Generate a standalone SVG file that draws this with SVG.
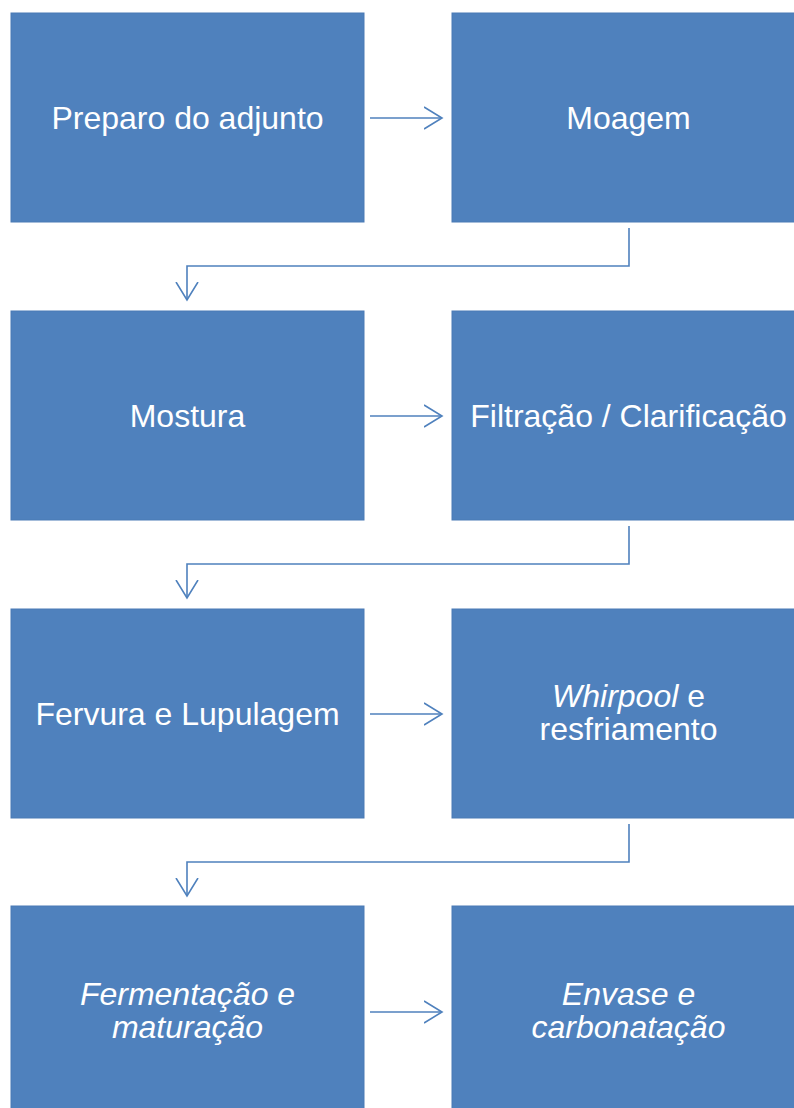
<svg xmlns="http://www.w3.org/2000/svg" width="794" height="1108" viewBox="0 0 794 1108">
<defs>
<style>
.box{fill:#4F81BD;stroke:#4A7AB5;stroke-width:1}
.t{font-family:"Liberation Sans",Arial,sans-serif;font-size:32px;fill:#FFFFFF;text-anchor:middle}
.i{font-style:italic}
.c{fill:none;stroke:#4F81BD;stroke-width:1.6}
</style>
<marker id="ah" viewBox="0 0 20 24" refX="18" refY="12" markerWidth="20" markerHeight="24" markerUnits="userSpaceOnUse" orient="auto">
<path d="M0,1 L18,12 L0,23" fill="none" stroke="#4F81BD" stroke-width="1.6"/>
</marker>
</defs>
<rect width="794" height="1108" fill="#FFFFFF"/>
<g id="n1"><rect class="box" x="11" y="13" width="353" height="209"/><text class="t" x="187.5" y="129">Preparo do adjunto</text></g>
<g id="n2"><rect class="box" x="452" y="13" width="353" height="209"/><text class="t" x="628.5" y="129">Moagem</text></g>
<g id="n3"><rect class="box" x="11" y="311" width="353" height="209"/><text class="t" x="187.5" y="427">Mostura</text></g>
<g id="n4"><rect class="box" x="452" y="311" width="353" height="209"/><text class="t" x="628.5" y="427">Filtração / Clarificação</text></g>
<g id="n5"><rect class="box" x="11" y="609" width="353" height="209"/><text class="t" x="187.5" y="725">Fervura e Lupulagem</text></g>
<g id="n6"><rect class="box" x="452" y="609" width="353" height="209"/><text class="t" x="628.5" y="707"><tspan class="i">Whirpool</tspan> e</text><text class="t" x="628.5" y="740">resfriamento</text></g>
<g id="n7"><rect class="box" x="11" y="906" width="353" height="209"/><text class="t i" x="187.5" y="1005">Fermentação e</text><text class="t i" x="187.5" y="1038">maturação</text></g>
<g id="n8"><rect class="box" x="452" y="906" width="353" height="209"/><text class="t i" x="628.5" y="1005">Envase e</text><text class="t i" x="628.5" y="1038">carbonatação</text></g>
<g id="connectors">
<path class="c" d="M370,118 H442" marker-end="url(#ah)"/>
<path class="c" d="M629,228 V266 H187 V300" marker-end="url(#ah)"/>
<path class="c" d="M370,416 H442" marker-end="url(#ah)"/>
<path class="c" d="M629,526 V564 H187 V598" marker-end="url(#ah)"/>
<path class="c" d="M370,714 H442" marker-end="url(#ah)"/>
<path class="c" d="M629,824 V862 H187 V896" marker-end="url(#ah)"/>
<path class="c" d="M370,1012 H442" marker-end="url(#ah)"/>
</g>
</svg>
